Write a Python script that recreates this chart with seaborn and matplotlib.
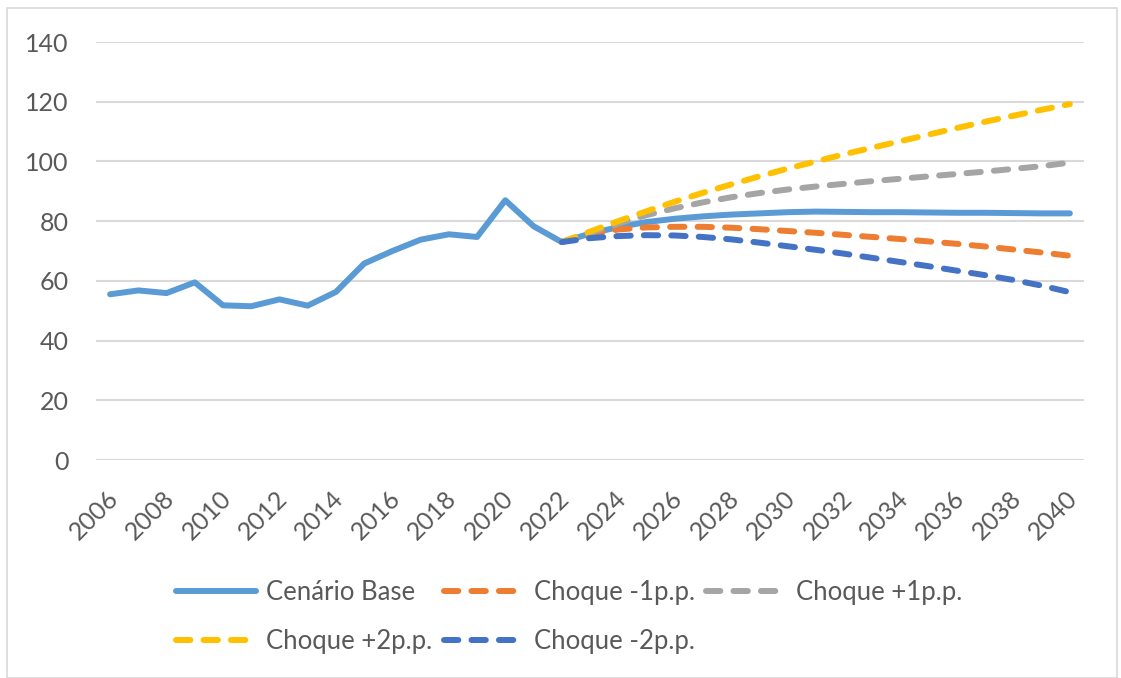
import matplotlib
matplotlib.use("Agg")
import matplotlib.pyplot as plt
from matplotlib.patches import Rectangle
from matplotlib.transforms import ScaledTranslation
import numpy as np
import pandas as pd
import seaborn as sns

# Historical debt ratio (Cenário Base) and projections under rate shocks
hist_years = list(range(2006, 2022))
hist_values = [55.5, 56.8, 55.9, 59.5, 51.8, 51.5, 53.8, 51.7, 56.3, 65.8,
               70.0, 73.8, 75.6, 74.7, 87.0, 78.3]

proj_years = list(range(2022, 2041))
base_proj = [73.0, 75.8, 78.0, 79.7, 80.8, 81.6, 82.2, 82.6, 83.0, 83.2,
             83.1, 83.0, 83.0, 82.9, 82.8, 82.8, 82.7, 82.6, 82.6]
shock_m1 = [73.0, 75.6, 77.2, 77.9, 78.1, 78.1, 77.8, 77.3, 76.7, 76.1,
            75.4, 74.7, 74.0, 73.2, 72.4, 71.5, 70.5, 69.5, 68.4]
shock_p1 = [73.0, 76.0, 79.2, 82.0, 84.3, 86.3, 88.0, 89.4, 90.6, 91.6,
            92.5, 93.4, 94.2, 95.0, 95.8, 96.6, 97.5, 98.4, 99.6]
shock_p2 = [73.0, 76.5, 80.0, 83.3, 86.5, 89.5, 92.3, 95.0, 97.6, 100.0,
            102.4, 104.6, 106.8, 109.0, 111.2, 113.3, 115.3, 117.3, 119.2]
shock_m2 = [73.0, 74.3, 75.0, 75.3, 75.2, 74.7, 73.9, 72.8, 71.6, 70.4,
            69.1, 67.7, 66.3, 64.9, 63.4, 61.9, 60.3, 58.4, 56.2]

series_names = ["Cenário Base", "Choque -1p.p.", "Choque +1p.p.",
                "Choque +2p.p.", "Choque -2p.p."]
colors = {"Cenário Base": "#5B9BD5", "Choque -1p.p.": "#ED7D31",
          "Choque +1p.p.": "#A5A5A5", "Choque +2p.p.": "#FFC000",
          "Choque -2p.p.": "#4472C4"}

rows = []
for y, v in zip(hist_years + proj_years, hist_values + base_proj):
    rows.append(("Cenário Base", y, v))
for name, vals in zip(series_names[1:], [shock_m1, shock_p1, shock_p2, shock_m2]):
    for y, v in zip(proj_years, vals):
        rows.append((name, y, v))
df = pd.DataFrame(rows, columns=["serie", "ano", "valor"])

sns.set_theme(style="white")
plt.rcParams["font.family"] = ["Lato", "DejaVu Sans"]

fig = plt.figure(figsize=(11.21, 6.78), dpi=100)
W, H = 1121, 678
ax = fig.add_axes([96 / W, 1 - 460 / H, (1084 - 96) / W, (460 - 42) / H])

dash = (2.4, 2.2)
handles = {}
for name in series_names:
    sub = df[df.serie == name]
    sns.lineplot(data=sub, x="ano", y="valor", ax=ax, color=colors[name],
                 lw=4.3, legend=False)
    ln = ax.get_lines()[-1]
    if name != "Cenário Base":
        ln.set_dashes(dash)
        ln.set_dash_capstyle("round")
    else:
        ln.set_solid_capstyle("round")
    ln.set_solid_joinstyle("round")
    ln.set_dash_joinstyle("round")
    handles[name] = ln

ax.set_xlim(2005.5, 2040.5)
ax.set_ylim(0, 140)
ax.set_yticks(range(0, 141, 20))
ax.set_xticks(range(2006, 2041, 2))
ax.set_xlabel("")
ax.set_ylabel("")
for s in ax.spines.values():
    s.set_visible(False)
ax.grid(axis="y", color="#D9D9D9", lw=1.5)
ax.grid(axis="x", visible=False)
ax.set_axisbelow(True)
ax.tick_params(axis="both", length=0, colors="#595959")
ax.tick_params(axis="y", pad=19.5, labelsize=18)
ax.tick_params(axis="x", pad=12, labelsize=18)
nudge = ScaledTranslation(-4 / 100, -10 / 100, fig.dpi_scale_trans)
for lab in ax.get_xticklabels():
    lab.set_rotation(45)
    lab.set_ha("right")
    lab.set_va("top")
    lab.set_rotation_mode("anchor")
    lab.set_transform(lab.get_transform() + nudge)

# Legend laid out row by row: matplotlib fills columns first, so reorder
leg_order = ["Cenário Base", "Choque +2p.p.", "Choque -1p.p.",
             "Choque -2p.p.", "Choque +1p.p."]
leg = fig.legend([handles[n] for n in leg_order], leg_order, ncol=3,
                 loc="center", bbox_to_anchor=(0.508, 1 - 617 / H),
                 frameon=False, fontsize=18.5, handlelength=3.1,
                 handletextpad=0.4, columnspacing=0.45, labelspacing=0.9,
                 labelcolor="#595959")

# Outer chart border
fig.patches.append(Rectangle((7 / W, 0), (1117 - 7) / W, 1 - 8 / H,
                             transform=fig.transFigure, fill=False,
                             edgecolor="#D9D9D9", lw=1.2))

fig.savefig("out.png", dpi=100)
